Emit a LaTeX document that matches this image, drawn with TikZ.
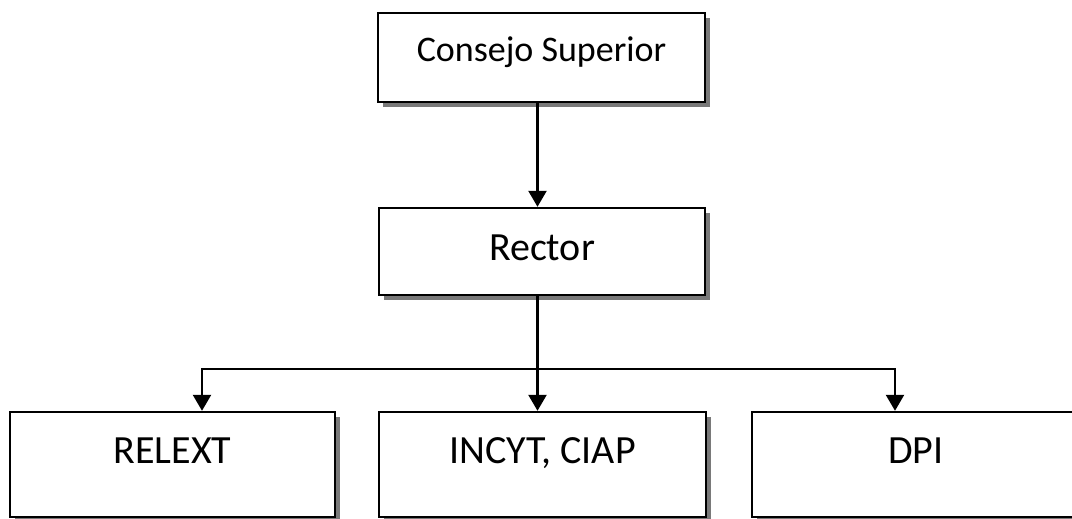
\documentclass[tikz,border=0pt]{standalone}
\usepackage{fontspec}
\setmainfont{Carlito}
\usetikzlibrary{arrows.meta,shadows,calc}
\tikzset{
	orgbox/.style={draw,line width=1.2pt,fill=white,inner sep=0pt,
		drop shadow={shadow xshift=2.5pt,shadow yshift=-2.5pt,fill=gray!95!black,opacity=1},
		font=\fontsize{20}{24}\selectfont},
	conn/.style={line width=1.2pt,-{Triangle[width=9pt,length=8pt]}}
}
\begin{document}
\begin{tikzpicture}[x=0.5pt,y=-0.5pt]
	\useasboundingbox (0,0) rectangle (1072,519);
	\clip (0,0) rectangle (1072,519);
	% niveles
	\node[orgbox,minimum width=163.5pt,minimum height=44.5pt,text height=24.5pt,text depth=20pt,
		font=\fontsize{18}{22}\selectfont] (consejo) at (541.5,57.5) {Consejo Superior};
	\node[orgbox,minimum width=163pt,minimum height=43.5pt,text height=26pt,text depth=17.5pt] (rector) at (542,251.5) {Rector};
	\node[orgbox,minimum width=162.5pt,minimum height=52.5pt,text height=25.5pt,text depth=27pt] (relext) at (172.5,464.5) {RELEXT};
	\node[orgbox,minimum width=163.5pt,minimum height=52.5pt,text height=25.5pt,text depth=27pt] (incyt) at (542.5,464.5) {INCYT, CIAP};
	\node[orgbox,minimum width=164pt,minimum height=52.5pt,text height=25.5pt,text depth=27pt] (dpi) at (916,464.5) {DPI};
	% conectores
	\coordinate (bus) at (537.5,369);
	\draw[conn] (consejo.south -| bus) -- (rector.north -| bus);
	\draw[line width=1.2pt] (rector.south -| bus) -- (bus);
	\draw[conn] (bus) -| ($(relext.north)+(29.5,0)$);
	\draw[conn] (bus) -- (incyt.north -| bus);
	\draw[conn] (bus) -| ($(dpi.north)+(-21,0)$);
\end{tikzpicture}
\end{document}
